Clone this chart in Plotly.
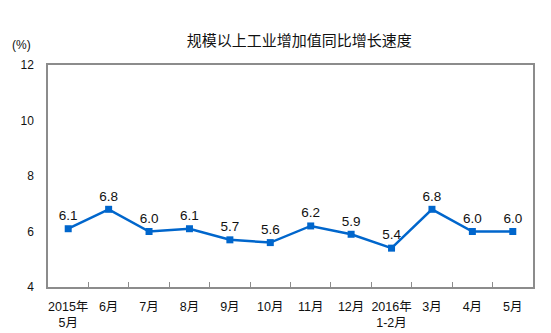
import plotly.graph_objects as go

# Monthly year-on-year growth of industrial value added (%)
months = ["2015年<br>5月", "6月", "7月", "8月", "9月", "10月", "11月", "12月",
          "2016年<br>1-2月", "3月", "4月", "5月"]
growth = [6.1, 6.8, 6.0, 6.1, 5.7, 5.6, 6.2, 5.9, 5.4, 6.8, 6.0, 6.0]
y_ticks = [4, 6, 8, 10, 12]

FONT = "Liberation Sans, Arial, Noto Sans CJK SC, sans-serif"
BLUE = "#0066CC"
FRAME = "#8c8c8c"

fig = go.Figure(
    go.Scatter(
        x=months,
        y=growth,
        mode="lines+markers+text",
        line=dict(color=BLUE, width=2.5),
        marker=dict(symbol="square", size=7, color=BLUE),
        text=[f"{v:.1f}" for v in growth],
        textposition="top center",
        textfont=dict(family=FONT, size=13.5, color="#111"),
        cliponaxis=False,
        hoverinfo="x+y",
    )
)

fig.update_layout(
    width=551,
    height=333,
    margin=dict(l=48, r=18, t=65, b=46),
    paper_bgcolor="white",
    plot_bgcolor="white",
    showlegend=False,
    font=dict(family=FONT, size=12, color="#111"),
    title=dict(
        text="规模以上工业增加值同比增长速度",
        x=0.543,
        xanchor="center",
        y=0.878,
        yanchor="middle",
        font=dict(family="Noto Sans CJK SC, sans-serif", size=15, color="#111"),
    ),
    annotations=[
        dict(
            text="(%)",
            xref="paper",
            yref="paper",
            x=-0.055,
            y=1.09,
            xanchor="center",
            yanchor="middle",
            showarrow=False,
            font=dict(family=FONT, size=12, color="#111"),
        )
    ],
)

fig.update_xaxes(
    type="category",
    automargin=False,
    tickangle=0,
    showline=True,
    linecolor=FRAME,
    linewidth=1.5,
    mirror=True,
    showgrid=False,
    ticks="inside",
    tickson="boundaries",
    ticklen=5,
    tickcolor=FRAME,
    ticklabelstandoff=7,
    tickfont=dict(family=FONT, size=12.5, color="#111"),
    range=[-0.5, len(months) - 0.5],
)

fig.update_yaxes(
    automargin=False,
    range=[4, 12],
    tickvals=y_ticks,
    showline=True,
    linecolor=FRAME,
    linewidth=1.5,
    mirror=True,
    showgrid=False,
    zeroline=False,
    ticks="",
    ticklabelstandoff=10,
    tickfont=dict(family=FONT, size=12, color="#111"),
)

fig.write_html("out.html")
